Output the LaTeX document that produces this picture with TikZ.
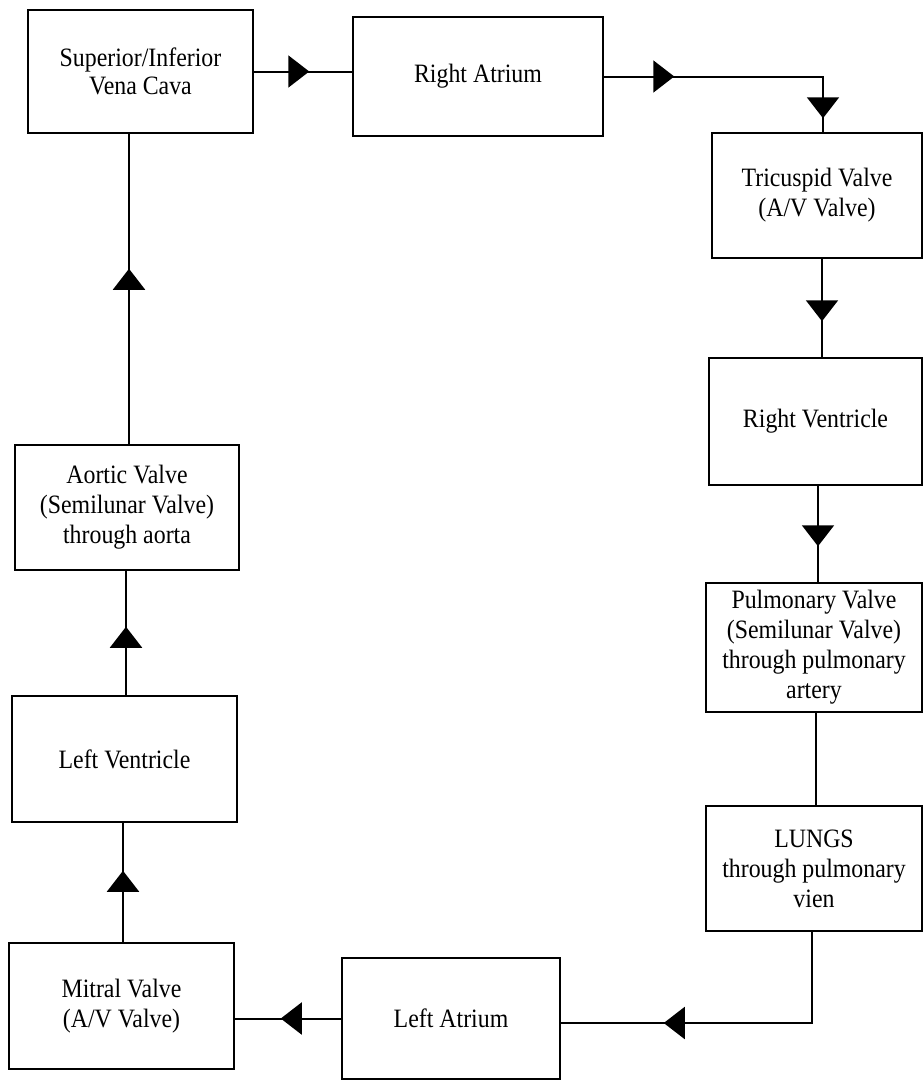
\documentclass[tikz,border=0pt]{standalone}
\usepackage{fontspec}
\setmainfont{Liberation Serif}[FakeStretch=0.9]
\usetikzlibrary{arrows.meta,decorations.markings}
\tikzset{
  box/.style={draw=black, line width=2.5pt, fill=white, rectangle, inner sep=0pt,
    align=center, font=\fontsize{26.5}{30}\selectfont},
  flow/.style={draw=black, line width=2pt},
  tri/.tip={Triangle[length=21pt,width=32pt]},
  arrowat/.style={postaction={decorate}, decoration={markings,
    mark=at position #1 with {\arrow{tri}}}},
  arrowattwo/.style n args={2}{postaction={decorate}, decoration={markings,
    mark=at position #1 with {\arrow{tri}},
    mark=at position #2 with {\arrow{tri}}}}
}
\begin{document}
\begin{tikzpicture}[x=1pt,y=-1pt]
\useasboundingbox[fill=white] (0,0) rectangle (923,1080);
% boxes
\node[box, minimum width=225pt, minimum height=123pt] (VC) at (140.5,71.5) {\raisebox{-4pt}{\shortstack{Superior/Inferior\\[2pt]Vena Cava}}};
\node[box, minimum width=250pt, minimum height=119pt] (RA) at (478,76.5) {Right Atrium};
\node[box, minimum width=210pt, minimum height=125pt] (TV) at (817,195.5) {Tricuspid Valve\\(A/V Valve)};
\node[box, minimum width=213pt, minimum height=127pt] (RV) at (815.5,421.5) {Right Ventricle};
\node[box, minimum width=216pt, minimum height=129pt] (PV) at (814,647.5) {Pulmonary Valve\\(Semilunar Valve)\\through pulmonary\\artery};
\node[box, minimum width=216pt, minimum height=125pt] (LU) at (814,868.5) {LUNGS\\through pulmonary\\vien};
\node[box, minimum width=218pt, minimum height=121pt] (LA) at (451,1018.5) {Left Atrium};
\node[box, minimum width=225pt, minimum height=126pt] (MV) at (121.5,1006) {Mitral Valve\\(A/V Valve)};
\node[box, minimum width=225pt, minimum height=126pt] (LV) at (124.5,759) {Left Ventricle};
\node[box, minimum width=224pt, minimum height=125pt] (AV) at (127,507.5) {Aortic Valve\\(Semilunar Valve)\\through aorta};
% connectors
\draw[flow, arrowat=55pt] (VC.east) -- (VC.east -| RA.west);
\draw[flow, arrowattwo={70pt}{260.5pt}] (RA.east) -| ([xshift=6pt]TV.north);
\draw[flow, arrowat=62pt] ([xshift=5pt]TV.south) -- ([xshift=5pt]TV.south |- RV.north);
\draw[flow, arrowat=60pt] ([xshift=2.5pt]RV.south) -- ([xshift=2.5pt]RV.south |- PV.north);
\draw[flow] ([xshift=2pt]PV.south) -- ([xshift=2pt]PV.south |- LU.north);
\draw[flow, arrowat=239pt] ([xshift=-2pt]LU.south) |- ([yshift=-4.5pt]LA.east);
\draw[flow, arrowat=60pt] (LA.west) -- (LA.west -| MV.east);
\draw[flow, arrowat=71pt] ([xshift=1.5pt]MV.north) -- ([xshift=1.5pt]MV.north |- LV.south);
\draw[flow, arrowat=68pt] ([xshift=1.5pt]LV.north) -- ([xshift=1.5pt]LV.north |- AV.south);
\draw[flow, arrowat=175pt] ([xshift=2pt]AV.north) -- ([xshift=2pt]AV.north |- VC.south);
\end{tikzpicture}
\end{document}
